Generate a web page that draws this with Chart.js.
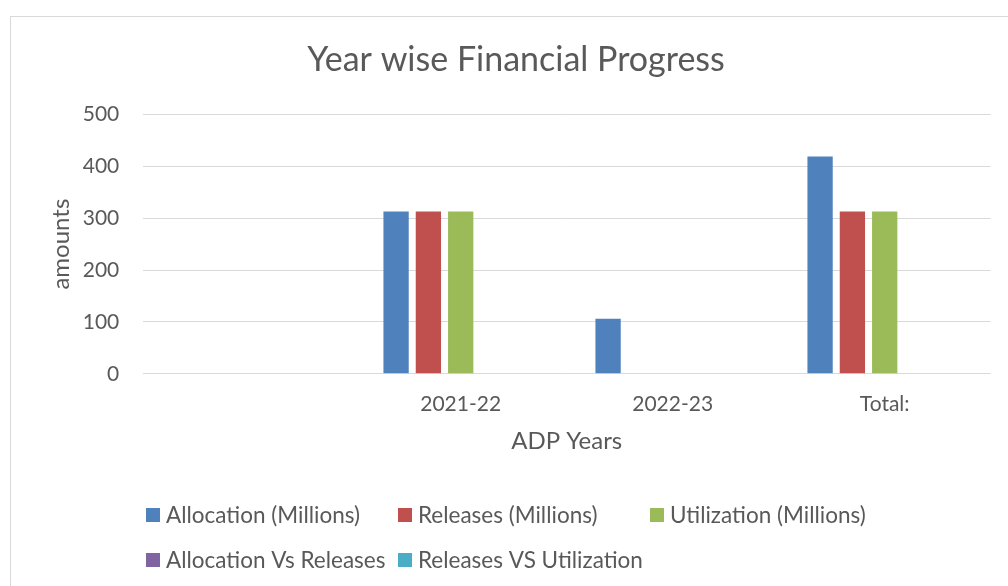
<!DOCTYPE html>
<html>
<head>
<meta charset="utf-8">
<title>Year wise Financial Progress</title>
<script src="https://cdn.jsdelivr.net/npm/chart.js@4.4.0/dist/chart.umd.min.js"></script>
<style>
	html,
	body {
		margin: 0;
		padding: 0;
		background: #fff;
		overflow: hidden;
	}
	#frame {
		position: absolute;
		left: 10px;
		top: 16px;
		width: 1010px;
		height: 580px;
		border-left: 1px solid #d9d9d9;
		border-top: 1px solid #d9d9d9;
	}
	canvas {
		display: block;
	}
</style>
</head>
<body>
<div id="frame"><canvas id="chart-financial-progress" width="1010" height="569"></canvas></div>
<script>
	// Data
	const CATEGORIES = ["", "2021-22", "2022-23", "Total:"];
	const ALLOCATION = [0, 313, 106, 419];
	const RELEASES = [0, 313, 0, 313];
	const UTILIZATION = [0, 313, 0, 313];
	const ALLOC_VS_RELEASES = [0, 0, 0, 0];
	const RELEASES_VS_UTIL = [0, 0, 0, 0];
	const Y_TICKS = [0, 100, 200, 300, 400, 500];

	const TEXT = "#595959";
	const GRID = "#d9d9d9";
	const FONT = "Lato, 'Open Sans', sans-serif";

	const series = (label, data, color) => ({
		label,
		data,
		backgroundColor: color,
		borderWidth: 0,
		barPercentage: 0.783,
		categoryPercentage: 0.762,
	});

	// Excel-like legend: fixed columns, two rows
	const gridLegend = {
		id: "gridLegend",
		afterDraw(chart) {
			const { ctx } = chart;
			const cols = 3;
			ctx.save();
			ctx.font = "22.5px " + FONT;
			ctx.textBaseline = "middle";
			ctx.textAlign = "left";
			chart.data.datasets.forEach((ds, i) => {
				const x = 135 + (i % cols) * 252;
				const y = 491 + Math.floor(i / cols) * 45;
				ctx.fillStyle = ds.backgroundColor;
				ctx.fillRect(x, y, 14, 14);
				ctx.fillStyle = TEXT;
				ctx.fillText(ds.label, x + 20, y + 7.5);
			});
			ctx.restore();
		},
	};

	new Chart(document.getElementById("chart-financial-progress"), {
		type: "bar",
		data: {
			labels: CATEGORIES,
			datasets: [
				series("Allocation (Millions)", ALLOCATION, "#4f81bd"),
				series("Releases (Millions)", RELEASES, "#c0504d"),
				series("Utilization (Millions)", UTILIZATION, "#9bbb59"),
				series("Allocation Vs Releases", ALLOC_VS_RELEASES, "#8064a2"),
				series("Releases VS Utilization", RELEASES_VS_UTIL, "#4bacc6"),
			],
		},
		plugins: [gridLegend],
		options: {
			responsive: false,
			animation: false,
			layout: {
				padding: { left: 30.3, right: 30.3, top: 0, bottom: 130 },
			},
			plugins: {
				legend: { display: false },
				tooltip: { enabled: false },
				title: {
					display: true,
					text: "Year wise Financial Progress",
					color: TEXT,
					font: { family: FONT, size: 34, weight: "normal" },
					padding: { top: 22.6, bottom: 34.1 },
				},
			},
			scales: {
				x: {
					// fixed height so ticks and title land where Excel puts them
					afterFit: (scale) => {
						scale.height = 82.2;
					},
					border: { display: false },
					grid: { display: false, drawTicks: false },
					ticks: {
						color: TEXT,
						font: { family: FONT, size: 21 },
						padding: 18,
					},
					title: {
						display: true,
						text: "ADP Years",
						color: TEXT,
						font: { family: FONT, size: 24 },
						padding: { top: 9, bottom: 0 },
					},
				},
				y: {
					min: 0,
					max: 500,
					afterFit: (scale) => {
						scale.width = 101.4;
					},
					afterBuildTicks: (scale) => {
						scale.ticks = Y_TICKS.map((v) => ({ value: v }));
					},
					border: { display: false },
					grid: { color: GRID, lineWidth: 1, drawTicks: false },
					ticks: {
						color: TEXT,
						font: { family: FONT, size: 21 },
						padding: 23.4,
					},
					title: {
						display: true,
						text: "amounts",
						color: TEXT,
						font: { family: FONT, size: 24 },
						padding: { top: 5.8, bottom: 0 },
					},
				},
			},
		},
	});
</script>
</body>
</html>
